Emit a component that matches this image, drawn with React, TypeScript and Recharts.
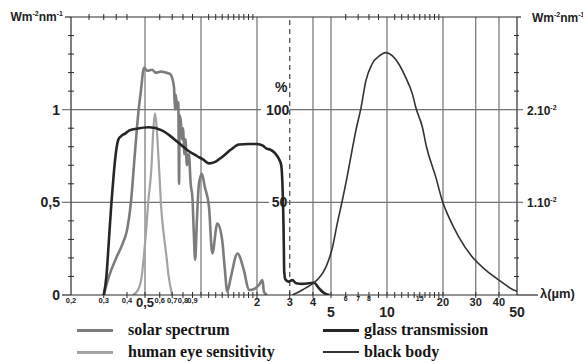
import React from 'react';
import { ComposedChart, Line, XAxis, YAxis, ReferenceLine, ReferenceDot } from 'recharts';

// wavelength (µm), value (W m-2 nm-1 on left scale)
const solarSpectrum: [number, number][] = [
  [0.3, 0], [0.32, 0.1], [0.35, 0.2], [0.38, 0.28], [0.4, 0.35], [0.42, 0.5], [0.44, 0.75],
  [0.46, 0.98], [0.475, 1.1], [0.494, 1.226], [0.514, 1.21], [0.547, 1.215], [0.57, 1.2],
  [0.607, 1.205], [0.646, 1.2], [0.687, 1.19], [0.7, 1.17], [0.716, 1.12], [0.725, 1.0],
  [0.732, 1.08], [0.745, 1.0], [0.755, 1.04], [0.762, 0.6], [0.768, 0.97], [0.78, 0.93],
  [0.79, 0.84], [0.8, 0.9], [0.815, 0.76], [0.825, 0.84], [0.84, 0.7], [0.86, 0.76],
  [0.88, 0.6], [0.9, 0.52], [0.915, 0.33], [0.93, 0.19], [0.95, 0.4], [0.975, 0.6],
  [1.01, 0.654], [1.05, 0.58], [1.104, 0.475], [1.15, 0.224], [1.224, 0.385], [1.3, 0.296],
  [1.34, 0.15], [1.385, 0.018], [1.45, 0.1], [1.57, 0.224], [1.7, 0.134], [1.81, 0.027],
  [1.9, 0.03], [2.05, 0.054], [2.14, 0.08], [2.18, 0.018], [2.26, 0],
];

const eyeSensitivity: [number, number][] = [
  [0.43, 0], [0.46, 0.03], [0.48, 0.1], [0.495, 0.23], [0.51, 0.38], [0.52, 0.5],
  [0.54, 0.67], [0.555, 0.9], [0.565, 0.98], [0.575, 0.93], [0.59, 0.75], [0.6, 0.62],
  [0.61, 0.48], [0.63, 0.33], [0.65, 0.22], [0.67, 0.1], [0.7, 0],
];

const glassTransmission: [number, number][] = [
  [0.3, 0], [0.31, 0.1], [0.32, 0.3], [0.33, 0.5], [0.34, 0.66], [0.35, 0.78], [0.36, 0.84],
  [0.37, 0.855], [0.38, 0.865], [0.39, 0.87], [0.41, 0.887], [0.45, 0.897], [0.525, 0.905],
  [0.62, 0.887], [0.68, 0.86], [0.76, 0.82], [0.85, 0.78], [0.95, 0.75], [1.03, 0.73],
  [1.1, 0.71], [1.2, 0.72], [1.3, 0.745], [1.45, 0.785], [1.6, 0.812], [1.8, 0.815],
  [2.0, 0.815], [2.15, 0.806], [2.25, 0.79], [2.35, 0.785], [2.5, 0.765], [2.62, 0.735],
  [2.7, 0.7], [2.74, 0.6], [2.76, 0.5], [2.78, 0.35], [2.79, 0.24], [2.8, 0.13], [2.84, 0.085],
  [2.95, 0.072], [3.1, 0.08], [3.25, 0.063], [3.5, 0.06], [3.8, 0.063], [4.05, 0.066],
  [4.3, 0.037], [4.6, 0.01], [4.9, 0],
];

const blackBody: [number, number][] = [
  [3.1, 0], [3.5, 0.027], [4, 0.063], [4.3, 0.09], [4.7, 0.152], [5.1, 0.26], [5.4, 0.385],
  [5.75, 0.51], [6.1, 0.636], [6.5, 0.785], [6.8, 0.887], [7.25, 1.01], [7.7, 1.156],
  [8.3, 1.245], [9.1, 1.29], [9.85, 1.308], [10.7, 1.29], [11.6, 1.245], [12.6, 1.174],
  [13.7, 1.084], [14.3, 1.01], [15.5, 0.905], [16.3, 0.8], [18.3, 0.636], [19.8, 0.51],
  [21.5, 0.42], [24.3, 0.314], [28.7, 0.206], [34, 0.134], [40, 0.08], [48, 0.027], [50, 0.02],
];

const bottomTicks = [0.2, 0.3, 0.4, 0.5, 0.6, 0.7, 0.8, 0.9, 1, 1.1, 1.2, 1.3, 1.4, 1.5, 1.6, 1.7,
  1.8, 1.9, 2, 3, 4, 5, 6, 7, 8, 9, 10, 11, 12, 13, 14, 15, 16, 17, 18, 19, 20, 30, 40, 50];
const topTicks = [0.2, 0.25, 0.3, 0.35, 0.4, 0.6, 0.7, 0.8, 0.9, 1.1, 1.2, 1.3, 1.4, 1.5, 1.6,
  1.7, 1.8, 1.9, 6, 7, 8, 9, 11, 12, 13, 14, 15, 16, 17, 18, 19, 50];
const smallLabels: Record<string, string> = {
  '0.2': '0,2', '0.3': '0,3', '0.4': '0,4', '0.6': '0,6', '0.7': '0,7', '0.8': '0,8', '0.9': '0,9',
};
const tinyLabels: Record<string, string> = { '6': '6', '7': '7', '8': '8', '15': '15' };
const mediumLabels: Record<string, string> = { '2': '2', '3': '3', '4': '4', '20': '20', '30': '30', '40': '40' };
const largeLabels: Record<string, string> = { '0.5': '0,5', '5': '5', '10': '10', '50': '50' };

const leftTicks = [0, 0.1, 0.2, 0.3, 0.4, 0.5, 0.6, 0.7, 0.8, 0.9, 1, 1.1, 1.2, 1.3, 1.4];
const leftLabels: Record<string, string> = { '0': '0', '0.5': '0,5', '1': '1' };
const rightTicks = [0.002, 0.004, 0.006, 0.008, 0.01, 0.012, 0.014, 0.016, 0.018, 0.02, 0.022,
  0.024, 0.026, 0.028];
const rightLabels: Record<string, string> = { '0.01': '1.10', '0.02': '2.10' };
const percentLabels: [number, number, string][] = [[2.58, 1, '100'], [2.64, 0.5, '50'], [2.7, 1.125, '%']];

const verticalGrid = [0.5, 1, 2, 4, 5, 10, 20, 30, 40];

const AX = '#2b2b2b';
const GRID = '#727272';
const SANS = 'Liberation Sans, Arial, sans-serif';
const SERIF = 'Liberation Serif, Times New Roman, serif';

const toPts = (a: [number, number][]) => a.map(([w, v]) => ({ w, v }));

const BottomTick = (p: any) => {
  const { x, y, payload } = p;
  const v = payload.value;
  const k = String(v);
  let label: React.ReactNode = null;
  if (smallLabels[k]) label = <text x={x} y={y + 5} fontSize={7.5} fontWeight={700} fontFamily={SANS} textAnchor="middle" dominantBaseline="central" fill="#222">{smallLabels[k]}</text>;
  else if (tinyLabels[k]) label = <text x={x} y={y + 3} fontSize={7} fontWeight={700} fontFamily={SANS} textAnchor="middle" dominantBaseline="central" fill="#222">{tinyLabels[k]}</text>;
  else if (mediumLabels[k]) label = <text x={x} y={y + 7} fontSize={11} fontWeight={700} fontFamily={SANS} textAnchor="middle" dominantBaseline="central" fill="#222">{mediumLabels[k]}</text>;
  else if (k === '0.5') label = <text x={x} y={y + 7} fontSize={13} fontWeight={700} fontFamily={SANS} textAnchor="middle" dominantBaseline="central" fill="#222">0,5</text>;
  else if (largeLabels[k]) label = <text x={x} y={y + 17} fontSize={14} fontWeight={700} fontFamily={SANS} textAnchor="middle" dominantBaseline="central" fill="#222">{largeLabels[k]}</text>;
  return (
    <g>
      {v !== 0.2 && v !== 50 && <line x1={x} x2={x} y1={y - 3} y2={y + 3} stroke={AX} strokeWidth={1} />}
      {v === 0.2 && <line x1={x - 9} x2={x} y1={y} y2={y} stroke={AX} strokeWidth={1.2} />}
      {v === 50 && (
        <g>
          <line x1={x} x2={x + 21} y1={y} y2={y} stroke={AX} strokeWidth={1.2} />
          <text x={x + 23} y={y - 2} fontSize={13} fontWeight={700} fontFamily={SANS} dominantBaseline="central" fill="#222">λ(µm)</text>
        </g>
      )}
      {label}
    </g>
  );
};

const UnitLabel = ({ x, y, anchor }: { x: number; y: number; anchor: 'start' | 'end' }) => (
  <text x={x} y={y} fontSize={12} fontWeight={700} fontFamily={SANS} textAnchor={anchor} dominantBaseline="central" fill="#222">
    Wm<tspan fontSize={7} dy={-4}>-2</tspan><tspan dy={4}>nm</tspan><tspan fontSize={7} dy={-4}>-1</tspan>
  </text>
);

const TopTick = (p: any) => {
  const { x, y, payload } = p;
  const v = payload.value;
  if (v === 0.2) {
    return (
      <g>
        <line x1={x - 6} x2={x} y1={y} y2={y} stroke={AX} strokeWidth={1.2} />
        <UnitLabel x={x - 8} y={y} anchor="end" />
      </g>
    );
  }
  if (v === 50) {
    return (
      <g>
        <line x1={x} x2={x + 4} y1={y} y2={y} stroke={AX} strokeWidth={1.2} />
        <UnitLabel x={x + 15} y={y + 1} anchor="start" />
      </g>
    );
  }
  return <line x1={x} x2={x} y1={y - 3} y2={y + 3} stroke={AX} strokeWidth={1} />;
};

const LeftTick = (p: any) => {
  const { x, y, payload } = p;
  const k = String(payload.value);
  if (leftLabels[k]) {
    return (
      <g>
        {k !== '0' && <line x1={x - 9} x2={x} y1={y} y2={y} stroke={GRID} strokeWidth={1.2} />}
        <text x={x - 11} y={y} fontSize={14} fontWeight={700} fontFamily={SANS} textAnchor="end" dominantBaseline="central" fill="#222">{leftLabels[k]}</text>
      </g>
    );
  }
  return <line x1={x - 3} x2={x + 3} y1={y} y2={y} stroke={AX} strokeWidth={1} />;
};

const RightTick = (p: any) => {
  const { x, y, payload } = p;
  const k = String(payload.value);
  if (rightLabels[k]) {
    return (
      <g>
        <line x1={x} x2={x + 6} y1={y} y2={y} stroke={GRID} strokeWidth={1.2} />
        <text x={x + 10} y={y + 1} fontSize={12} fontWeight={700} fontFamily={SANS} dominantBaseline="central" fill="#222">
          {rightLabels[k]}<tspan fontSize={7} dy={-4}>-2</tspan>
        </text>
      </g>
    );
  }
  return <line x1={x - 3} x2={x + 2} y1={y} y2={y} stroke={AX} strokeWidth={1} />;
};

const legendItems: { label: string; color: string; width: number; left: number; textLeft: number; top: number }[] = [
  { label: 'solar spectrum', color: '#7c7c7c', width: 3, left: 77, textLeft: 128, top: 330 },
  { label: 'human eye sensitivity', color: '#a3a3a3', width: 3, left: 77, textLeft: 128, top: 352 },
  { label: 'glass transmission', color: '#262626', width: 3, left: 323, textLeft: 364, top: 330 },
  { label: 'black body', color: '#333333', width: 2, left: 323, textLeft: 364, top: 352 },
];

export default function App() {
  return (
    <div style={{ position: 'absolute', left: 0, top: 0, width: 583, height: 362, background: '#fff' }}>
      <ComposedChart width={583} height={362} margin={{ top: 16, right: 65, bottom: 66, left: 70 }}>
        <XAxis xAxisId="b" dataKey="w" type="number" scale="log" domain={[0.2, 50]} allowDataOverflow
          ticks={bottomTicks} interval={0} height={1} tickSize={0} tickMargin={0}
          axisLine={{ stroke: AX, strokeWidth: 1.2 }} tick={<BottomTick />} />
        <XAxis xAxisId="t" orientation="top" dataKey="w" type="number" scale="log" domain={[0.2, 50]} allowDataOverflow
          ticks={topTicks} interval={0} height={1} tickSize={0} tickMargin={0}
          axisLine={{ stroke: AX, strokeWidth: 1.2 }} tick={<TopTick />} />
        <YAxis yAxisId="l" type="number" domain={[0, 1.5]} allowDataOverflow ticks={leftTicks} interval={0}
          width={1} tickSize={0} tickMargin={0} axisLine={{ stroke: AX, strokeWidth: 1.2 }} tick={<LeftTick />} />
        <YAxis yAxisId="r" orientation="right" type="number" domain={[0, 0.03]} allowDataOverflow ticks={rightTicks}
          interval={0} width={1} tickSize={0} tickMargin={0} axisLine={{ stroke: AX, strokeWidth: 1.2 }} tick={<RightTick />} />

        {verticalGrid.map((g) => (
          <ReferenceLine key={'v' + g} xAxisId="b" yAxisId="l" x={g} stroke={GRID} strokeWidth={1.2} />
        ))}
        <ReferenceLine xAxisId="b" yAxisId="l" x={3} stroke="#444" strokeWidth={1.2} strokeDasharray="5 4" />
        <ReferenceLine xAxisId="b" yAxisId="l" segment={[{ x: 0.2, y: 1 }, { x: 2.1, y: 1 }]} stroke={GRID} strokeWidth={1.2} />
        <ReferenceLine xAxisId="b" yAxisId="l" segment={[{ x: 3.0, y: 1 }, { x: 50, y: 1 }]} stroke={GRID} strokeWidth={1.2} />
        <ReferenceLine xAxisId="b" yAxisId="l" segment={[{ x: 0.2, y: 0.5 }, { x: 2.32, y: 0.5 }]} stroke={GRID} strokeWidth={1.2} />
        <ReferenceLine xAxisId="b" yAxisId="l" segment={[{ x: 2.9, y: 0.5 }, { x: 50, y: 0.5 }]} stroke={GRID} strokeWidth={1.2} />

        <Line xAxisId="b" yAxisId="l" data={toPts(eyeSensitivity)} dataKey="v" type="monotone" stroke="#a3a3a3"
          strokeWidth={2.2} dot={false} isAnimationActive={false} />
        <Line xAxisId="b" yAxisId="l" data={toPts(solarSpectrum)} dataKey="v" type="monotone" stroke="#7c7c7c"
          strokeWidth={2.6} dot={false} isAnimationActive={false} />
        <Line xAxisId="b" yAxisId="l" data={toPts(glassTransmission)} dataKey="v" type="monotone" stroke="#262626"
          strokeWidth={2.6} dot={false} isAnimationActive={false} />
        <Line xAxisId="b" yAxisId="l" data={toPts(blackBody)} dataKey="v" type="monotone" stroke="#333333"
          strokeWidth={1.6} dot={false} isAnimationActive={false} />

        {percentLabels.map(([w, v, t]) => (
          <ReferenceDot key={t} xAxisId="b" yAxisId="l" x={w} y={v} r={0}
            shape={(s: any) => (
              <text x={s.cx} y={s.cy} fontSize={14} fontWeight={700} fontFamily={SANS} textAnchor="middle"
                dominantBaseline="central" fill="#222">{t}</text>
            )} />
        ))}
      </ComposedChart>
      {legendItems.map((it) => (
        <div key={it.label}>
          <div style={{ position: 'absolute', left: it.left, top: it.top - it.width / 2, width: 36, height: it.width, background: it.color }} />
          <div style={{ position: 'absolute', left: it.textLeft, top: it.top - 8, lineHeight: '16px', fontSize: 16,
            fontWeight: 700, fontFamily: SERIF, color: '#151515', whiteSpace: 'nowrap' }}>{it.label}</div>
        </div>
      ))}
    </div>
  );
}
